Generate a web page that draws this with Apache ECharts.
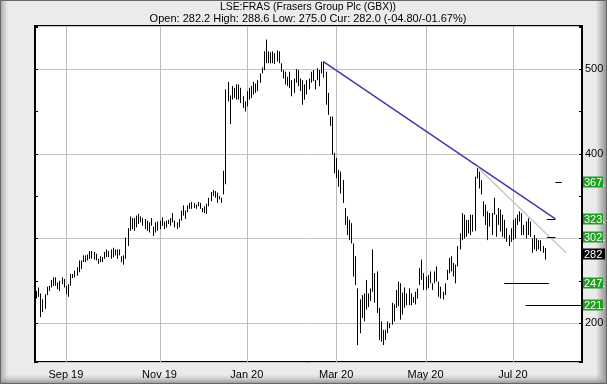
<!DOCTYPE html>
<html><head><meta charset="utf-8">
<script src="https://cdn.jsdelivr.net/npm/echarts@6/dist/echarts.min.js"></script>
<style>html,body{margin:0;padding:0;background:#ebebeb}#c{width:607px;height:384px}</style>
</head><body><div id="c"></div>
<script>
// ---------- data ----------
const titleText = 'LSE:FRAS (Frasers Group Plc (GBX))';
const quoteText = 'Open: 282.2 High: 288.6 Low: 275.0 Cur: 282.0 (-04.80/-01.67%)';
const startDate = [2019, 7, 12];
const holidays = ['2019-08-26','2019-12-25','2019-12-26','2020-01-01','2020-04-10','2020-04-13','2020-05-08','2020-05-25'];
const slotCount = 257;
const monthNames = ['Jan','Feb','Mar','Apr','May','Jun','Jul','Aug','Sep','Oct','Nov','Dec'];

const lows = [
229,231,207,213,217,233,238, 242,244,244,240,238,246,242,234,231,244,253,254,256,260,264,272,272,274,276,276,275,
274,270,272,272,276,278,278,276,278,280,276,280,272,269,276,291,309,311,309,313,317,319,315,311,309,
307,315,303,307,309,311,315,311,313,317,315,319,313,311,313,321,327,323,331,335,335,336,335,338,335,
331,330,329,338,344,350,348,342,346,342,
352,364,462,435,464,466,464, 464,460,454,450,456,464,466,470,472,474,484,495,499,507,507,507,
507,506,509,507,497,489,482,480,478,468,472,484,480,474,458,464,470,476,
484,486,476,487,480,495,490,458,446,433,
399,377,371,361,353,342, 316,304,298,294,255,245,174,188,206,202,216,219,226,237,224,212,180,178,174,180,
188,194,198,202,218,220,204,210,218,221,221,221,224,
222,229,245,251,239,239,241,247,239,247,249,231,229,228,233,251,259,261,255,247,267,287,298,300,302,
306,304,308,309,371,359,352,326,316,298,314,304,328,302,316,308,302,300,296,
291,296,298,300,316,320,304,304,300, 304,302,283,287,285,287,285,283,275
];
const highs = [
238,242,235,228,234,243,244, 251,254,254,248,250,254,252,244,246,258,258,262,266,274,274,280,280,281,285,285,284,
282,276,279,278,284,287,285,287,289,287,287,287,279,280,301,312,326,324,324,327,329,326,324,323,321,
319,324,314,319,320,321,325,320,321,322,324,330,321,319,323,333,339,333,339,342,343,342,340,343,342,
336,338,341,348,355,357,356,354,350,348,
380,476,485,469,480,478,482, 482,478,468,462,474,478,480,485,483,487,495,502,521,535,521,520,
521,519,522,521,507,499,497,491,497,487,489,500,499,489,487,482,487,489,
497,499,487,501,499,509,509,497,472,444,
444,401,395,381,379,369, 336,326,322,318,294,279,241,228,233,235,251,235,241,287,259,261,218,202,192,192,
202,200,224,222,239,249,247,236,242,235,241,235,231,
237,241,265,275,259,255,257,261,247,261,267,249,243,237,247,263,277,279,271,269,291,306,330,328,322,
322,328,328,373,385,379,369,344,340,332,330,330,348,328,336,334,328,322,312,
304,312,322,324,328,332,330,316,320, 324,320,300,304,300,298,298,291,288.6
];

const trendStarts = [[135, 509], [207, 385]];
const trendEnds   = [[244, 323], [249, 283]];

const targetValues = [367, 323, 302, 247, 221];
const targetLabels = ['367.', '323.', '302.', '247.', '221.'];
const targetFrom   = [244, 240, 240, 220, 230];
const targetTo     = [247, 244, 244, 241, 256];
const currentValue = 282;
const currentLabel = '282';

const yMin = 154, yMax = 551;

// ---------- build ----------
const categories = [];
{
  const d = new Date(Date.UTC(startDate[0], startDate[1], startDate[2]));
  while (categories.length < slotCount) {
    const wd = d.getUTCDay();
    const s = d.toISOString().slice(0, 10);
    if (wd !== 0 && wd !== 6 && !holidays.includes(s)) categories.push(s);
    d.setUTCDate(d.getUTCDate() + 1);
  }
}
const tickIdx = [];
categories.forEach((c, i) => {
  if (i === 0) return;
  const m = +c.slice(5, 7) - 1, pm = +categories[i - 1].slice(5, 7) - 1;
  if (m !== pm && m % 2 === 0) tickIdx.push(i);
});
const tickSet = new Set(tickIdx);

const FONT = "'Liberation Sans', Arial, sans-serif";
const trendColors = ['#3b3bab', '#c9c9c0'];

const boxLabels = targetLabels.concat([currentLabel]);
const boxValues = targetValues.concat([currentValue]);

const chart = echarts.init(document.getElementById('c'), null, {renderer: 'canvas'});
chart.setOption({
  animation: false,
  backgroundColor: '#ebebeb',
  textStyle: {fontFamily: FONT},
  title: {
    text: titleText, subtext: quoteText,
    left: 308, top: 0, textAlign: 'center', padding: [1, 0, 0, 0], itemGap: 0,
    textStyle: {fontSize: 10.4, fontWeight: 'normal', color: '#000', fontFamily: FONT, lineHeight: 12},
    subtextStyle: {fontSize: 11, color: '#000', fontFamily: FONT, lineHeight: 12}
  },
  graphic: [
    {type: 'rect', z: -10, shape: {x: 0, y: 0, width: 8, height: 384},
     style: {fill: new echarts.graphic.LinearGradient(0, 0, 1, 0, [{offset: 0, color: '#a8a8a8'}, {offset: 1, color: '#ebebeb'}])}},
    {type: 'rect', z: -10, shape: {x: 596, y: 0, width: 11, height: 384},
     style: {fill: new echarts.graphic.LinearGradient(0, 0, 1, 0, [{offset: 0, color: '#ebebeb'}, {offset: 1, color: '#8c8c8c'}])}},
    {type: 'rect', z: -9, shape: {x: 0, y: 374, width: 607, height: 10},
     style: {fill: new echarts.graphic.LinearGradient(0, 0, 0, 1, [{offset: 0, color: 'rgba(200,200,200,0)'}, {offset: 1, color: '#8c8c8c'}])}},
    {type: 'rect', z: -8, shape: {x: 0.5, y: 0.5, width: 606, height: 383},
     style: {fill: 'none', stroke: '#666', lineWidth: 1}}
  ],
  grid: {left: 35, right: 25, top: 26, bottom: 22, show: true, backgroundColor: '#fff', borderColor: '#000', borderWidth: 2},
  xAxis: {
    type: 'category', data: categories, boundaryGap: true,
    axisLine: {show: false}, axisTick: {show: false}, splitLine: {show: false},
    axisLabel: {
      interval: (i) => tickSet.has(i),
      formatter: (v) => monthNames[+v.slice(5, 7) - 1] + ' ' + v.slice(2, 4),
      color: '#000', fontSize: 11, margin: 7, fontFamily: FONT
    }
  },
  yAxis: [
    {type: 'value', position: 'right', min: yMin, max: yMax, scale: true,
     axisLine: {show: false}, axisTick: {show: false},
     splitLine: {show: true, lineStyle: {color: '#c4c4c4', width: 1}},
     axisLabel: {color: '#000', fontSize: 11, margin: 3, showMinLabel: false, showMaxLabel: false, fontFamily: FONT}},
    {type: 'value', position: 'left', min: yMin, max: yMax, splitNumber: 8, scale: true,
     axisLine: {show: false}, splitLine: {show: false}, axisLabel: {show: false},
     axisTick: {show: true, inside: true, length: 3, lineStyle: {color: '#000'}}},
    {type: 'value', position: 'right', min: yMin, max: yMax, splitNumber: 8, scale: true,
     axisLine: {show: false}, splitLine: {show: false}, axisLabel: {show: false},
     axisTick: {show: true, inside: true, length: 3, lineStyle: {color: '#000'}}}
  ],
  series: [
    { // vertical month gridlines
      type: 'custom', z: 1, silent: true,
      data: tickIdx.map(i => [i, 300]), encode: {x: 0, y: 1},
      renderItem: (params, api) => {
        const cs = params.coordSys;
        const x = Math.round(api.coord([api.value(0), 300])[0]) + 0.5;
        return {type: 'line', shape: {x1: x, y1: cs.y, x2: x, y2: cs.y + cs.height},
                style: {stroke: '#bcbcbc', lineWidth: 1}};
      }
    },
    { // price bars (low-high)
      type: 'custom', z: 5, silent: true,
      data: lows.map((l, i) => [i, l, highs[i]]), encode: {x: 0, y: [1, 2]},
      renderItem: (params, api) => {
        const i = api.value(0);
        const p1 = api.coord([i, api.value(1)]);
        const p2 = api.coord([i, api.value(2)]);
        const x = Math.round(p1[0]) + 0.5;
        return {type: 'line', shape: {x1: x, y1: p1[1], x2: x, y2: p2[1]},
                style: {stroke: '#000', lineWidth: 1}};
      }
    },
    { // trend lines
      type: 'custom', z: 6, silent: true,
      data: trendStarts.map((s, k) => [s[0], s[1], trendEnds[k][0], trendEnds[k][1]]),
      encode: {x: [0, 2], y: [1, 3]},
      renderItem: (params, api) => {
        const a = api.coord([api.value(0), api.value(1)]);
        const b = api.coord([api.value(2), api.value(3)]);
        return {type: 'line', shape: {x1: a[0], y1: a[1], x2: b[0], y2: b[1]},
                style: {stroke: trendColors[params.dataIndex], lineWidth: 1.5}};
      }
    },
    { // target level lines
      type: 'custom', z: 6, silent: true,
      data: targetValues.map((v, k) => [targetFrom[k], v, targetTo[k]]),
      encode: {x: [0, 2], y: 1},
      renderItem: (params, api) => {
        const a = api.coord([api.value(0), api.value(1)]);
        const b = api.coord([api.value(2), api.value(1)]);
        const y = Math.round(a[1]) + 0.5;
        return {type: 'line', shape: {x1: a[0], y1: y, x2: b[0], y2: y},
                style: {stroke: '#000', lineWidth: 1}};
      }
    },
    { // right-hand value boxes
      type: 'custom', z: 8, silent: true, clip: false,
      data: boxValues.map((v) => [0, v]), encode: {x: 0, y: 1},
      renderItem: (params, api) => {
        const cs = params.coordSys;
        const y = Math.round(api.coord([0, api.value(1)])[1]);
        const isCur = params.dataIndex === boxValues.length - 1;
        const x0 = cs.x + cs.width + 1;
        return {type: 'group', children: [
          {type: 'rect', shape: {x: x0, y: y - 5.5, width: isCur ? 22 : 20, height: 11},
           style: {fill: isCur ? '#000' : '#1f9f1f'}},
          {type: 'text', style: {text: boxLabels[params.dataIndex], x: x0 + 1, y: y + 0.5,
            verticalAlign: 'middle', align: 'left', fill: '#fff', fontSize: 11, fontFamily: FONT}}
        ]};
      }
    }
  ]
});
</script></body></html>
